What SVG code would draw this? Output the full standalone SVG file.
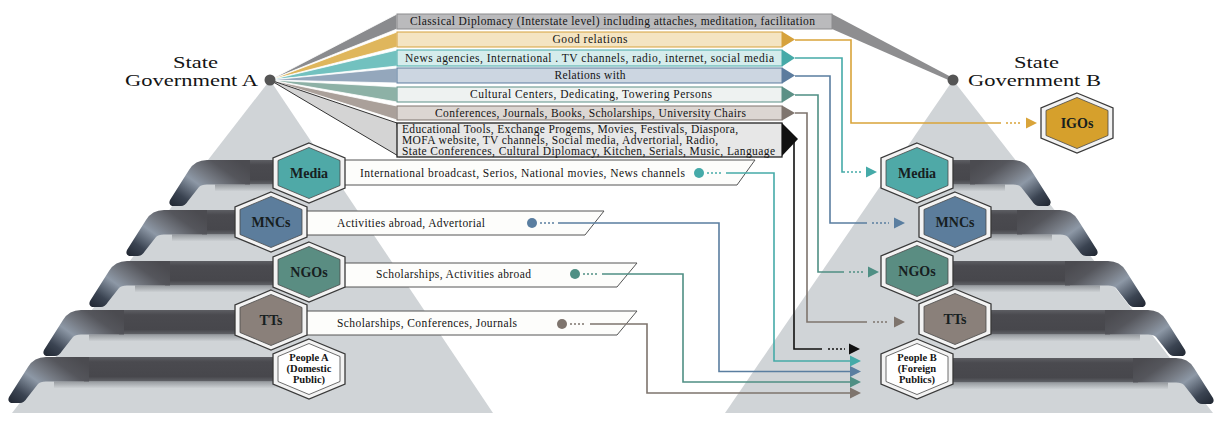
<svg xmlns="http://www.w3.org/2000/svg" width="1225" height="434" viewBox="0 0 1225 434">
<style>
text{font-family:"Liberation Serif","DejaVu Serif",serif;fill:#141414}
.gov{font-size:17px}
.ban{font-size:11.5px;text-anchor:middle}
.banl{font-size:11.5px}
.lbl{font-size:11.5px}
.hxt{font-size:14px;font-weight:bold;text-anchor:middle;fill:#17201f}
.hxs{font-size:10.5px;font-weight:bold;text-anchor:middle}
.pyr{fill:#d0d4d7}
.ring{fill:#f3f3f3;stroke:#3a3a3a;stroke-width:1.3}
.core{stroke:#4a4a4a;stroke-width:0.8}
.lab{fill:#fdfdfb;stroke:#555;stroke-width:1}
.band{fill:url(#bandG)}
.shad{fill:url(#shadG)}
.curl{fill:url(#curlG)}
.dash{stroke-dasharray:2 2}
.w{stroke:#fff;stroke-width:0.8}
</style>
<defs>
<linearGradient id="bandG" x1="0" y1="0" x2="0" y2="1">
<stop offset="0" stop-color="#5d5e63"/><stop offset="0.2" stop-color="#4a4a4f"/><stop offset="0.8" stop-color="#47474c"/><stop offset="1" stop-color="#626469"/>
</linearGradient>
<linearGradient id="shadG" x1="0" y1="0" x2="0" y2="1">
<stop offset="0" stop-color="#7d8186" stop-opacity="0.7"/><stop offset="1" stop-color="#7d8186" stop-opacity="0"/>
</linearGradient>
<linearGradient id="curlG" x1="0" y1="1" x2="1" y2="0.2">
<stop offset="0" stop-color="#1f2530"/><stop offset="0.2" stop-color="#3b4452"/><stop offset="0.45" stop-color="#8d98a6"/><stop offset="0.6" stop-color="#767b84"/><stop offset="0.8" stop-color="#55565c"/><stop offset="1" stop-color="#4b4b50"/>
</linearGradient>
<polygon id="hexO" points="0,-30 36,-15 36,15 0,30 -36,15 -36,-15"/>
<polygon id="hexI" points="0,-25.5 31,-12.5 31,12.5 0,25.5 -31,12.5 -31,-12.5"/>
<path id="curl" d="M45,0 L2,0 Q-10,0 -16,10 L-35,40 Q-37,44 -33,46 L-24,46 Q-20,46 -17,41 L-6,27 Q-4,24.5 2,24.5 L45,24.5Z"/>
<path id="ah" d="M-11,-5.5 L0,0 L-11,5.5Z"/>
</defs>

<g id="pyramids">
<polygon class="pyr" points="270,80 493,413 12,413"/>
<polygon class="pyr" points="953,80 1213,413 725,413"/>
</g>

<g id="steps">
<g><rect class="band" x="245" y="160" width="55" height="24.5"/><rect class="shad" x="215" y="184.5" width="85" height="7"/><use href="#curl" class="curl" transform="translate(205,160)"/></g>
<g><rect class="band" x="202" y="210" width="60" height="24.5"/><rect class="shad" x="172" y="234.5" width="90" height="7"/><use href="#curl" class="curl" transform="translate(162,210)"/></g>
<g><rect class="band" x="165" y="261" width="135" height="24.5"/><rect class="shad" x="135" y="285.5" width="165" height="7"/><use href="#curl" class="curl" transform="translate(125,261)"/></g>
<g><rect class="band" x="119" y="310" width="143" height="24.5"/><rect class="shad" x="89" y="334.5" width="173" height="7"/><use href="#curl" class="curl" transform="translate(79,310)"/></g>
<g><rect class="band" x="84" y="357" width="216" height="24.5"/><rect class="shad" x="54" y="381.5" width="246" height="7"/><use href="#curl" class="curl" transform="translate(44,357)"/></g>
<g><rect class="band" x="920" y="160" width="55" height="24.5"/><rect class="shad" x="920" y="184.5" width="85" height="7"/><use href="#curl" class="curl" transform="translate(1015,160) scale(-1,1)"/></g>
<g><rect class="band" x="955" y="210" width="67" height="24.5"/><rect class="shad" x="955" y="234.5" width="97" height="7"/><use href="#curl" class="curl" transform="translate(1062,210) scale(-1,1)"/></g>
<g><rect class="band" x="920" y="261" width="150" height="24.5"/><rect class="shad" x="920" y="285.5" width="180" height="7"/><use href="#curl" class="curl" transform="translate(1110,261) scale(-1,1)"/></g>
<g><rect class="band" x="955" y="310" width="155" height="24.5"/><rect class="shad" x="955" y="334.5" width="185" height="7"/><use href="#curl" class="curl" transform="translate(1150,310) scale(-1,1)"/></g>
<g><rect class="band" x="920" y="358" width="218" height="24.5"/><rect class="shad" x="920" y="382.5" width="248" height="7"/><use href="#curl" class="curl" transform="translate(1178,358) scale(-1,1)"/></g>
</g>

<g id="fan">
<polygon class="w" fill="#8a8b8e" points="270,80 397,14 397,29"/>
<polygon class="w" fill="#dfb65c" points="270,80 397,32 397,47"/>
<polygon class="w" fill="#72c1bf" points="270,80 397,50 397,66"/>
<polygon class="w" fill="#94a7bc" points="270,80 397,68 397,83"/>
<polygon class="w" fill="#8db1a6" points="270,80 397,87 397,102"/>
<polygon class="w" fill="#aaa09a" points="270,80 397,106 397,120"/>
<polygon fill="#d4d4d4" stroke="#333" stroke-width="1" points="270,80 397,123 400,157"/>
<polygon fill="#8e8e90" points="832,14 953,78 953,82 832,29"/>
</g>

<g id="banner-classical">
<rect x="397" y="14" width="435" height="15" fill="#bababc" stroke="#8c8c8e"/>
<text class="ban" x="612.5" y="25" textLength="405">Classical Diplomacy (Interstate level) including attaches, meditation, facilitation</text>
</g>
<g id="banner-good">
<rect x="397" y="32" width="385" height="15" fill="#f4e4c2" stroke="#d6a23c"/>
<polygon points="782,31.5 795,39.5 782,47.5" fill="#d6a23c"/>
<text class="ban" x="590" y="43" textLength="75">Good relations</text>
</g>
<g id="banner-news">
<rect x="397" y="50" width="385" height="16" fill="#d5ecec" stroke="#46aaa8"/>
<polygon points="782,49.5 795,58 782,66.5" fill="#46aaa8"/>
<text class="ban" x="589.5" y="61.5" textLength="369">News agencies, International . TV channels, radio, internet, social media</text>
</g>
<g id="banner-relations">
<rect x="397" y="68" width="385" height="15" fill="#ccd6e1" stroke="#5c7c9e"/>
<polygon points="782,67.5 795,75.5 782,83.5" fill="#5c7c9e"/>
<text class="ban" x="590" y="79" textLength="71">Relations with</text>
</g>
<g id="banner-cultural">
<rect x="397" y="87" width="385" height="15" fill="#eef2f1" stroke="#5c9086"/>
<polygon points="782,86.5 795,94.5 782,102.5" fill="#5c9086"/>
<text class="ban" x="591" y="98" textLength="242">Cultural Centers, Dedicating, Towering Persons</text>
</g>
<g id="banner-conferences">
<rect x="397" y="106" width="385" height="14" fill="#dcd6d2" stroke="#7f756e"/>
<polygon points="782,105.5 795,113 782,120.5" fill="#7f756e"/>
<text class="ban" x="590.5" y="116.5" textLength="311">Conferences, Journals, Books, Scholarships, University Chairs</text>
</g>
<g id="banner-educational">
<rect x="397" y="123" width="385" height="34" fill="#e7e7e7" stroke="#222" stroke-width="1.3"/>
<polygon points="782,123 798,139 782,156" fill="#111"/>
<text class="banl" x="402" y="132.5" textLength="336">Educational Tools, Exchange Progems, Movies, Festivals, Diaspora,</text>
<text class="banl" x="402" y="143.5" textLength="316">MOFA website, TV channels, Social media, Advertorial, Radio,</text>
<text class="banl" x="402" y="154.5" textLength="373">State Conferences, Cultural Diplomacy, Kitchen, Serials, Music, Language</text>
</g>

<g id="labels">
<g id="label-media"><polygon class="lab" points="330,160 755,160 737,185 330,185"/><text class="lbl" x="360" y="176.5" textLength="325">International broadcast, Serios, National movies, News channels</text></g>
<g id="label-mncs"><polygon class="lab" points="290,211 604,211 585,235 290,235"/><text class="lbl" x="337" y="226.5" textLength="148">Activities abroad, Advertorial</text></g>
<g id="label-ngos"><polygon class="lab" points="330,263 637,263 617,287 330,287"/><text class="lbl" x="376" y="278" textLength="155">Scholarships, Activities abroad</text></g>
<g id="label-tts"><polygon class="lab" points="290,311 637,311 617,335 290,335"/><text class="lbl" x="337" y="327" textLength="180">Scholarships, Conferences, Journals</text></g>
</g>

<g id="connectors" fill="none" stroke-width="1.6">
<path d="M795,40H851V123H1001" stroke="#d9a43a"/><path class="dash" d="M1006,123H1022" stroke="#d9a43a"/><use href="#ah" x="1037" y="123" fill="#d9a43a"/>
<path d="M795,58H842V172H845" stroke="#45aaa8"/><path class="dash" d="M847,172H862" stroke="#45aaa8"/><use href="#ah" x="877" y="172" fill="#45aaa8"/>
<path d="M795,76H830V223H867" stroke="#5a7ea0"/><path class="dash" d="M872,223H889" stroke="#5a7ea0"/><use href="#ah" x="905" y="223" fill="#5a7ea0"/>
<path d="M795,95H818V272H844" stroke="#4f8f84"/><path class="dash" d="M849,272H863" stroke="#4f8f84"/><use href="#ah" x="879" y="272" fill="#4f8f84"/>
<path d="M795,113H807V322H867" stroke="#7e746d"/><path class="dash" d="M873,322H889" stroke="#7e746d"/><use href="#ah" x="905" y="322" fill="#7e746d"/>
<path d="M794,140V349H822" stroke="#111"/><path class="dash" d="M828,349H845" stroke="#111"/><use href="#ah" x="860" y="349" fill="#111"/>
<circle cx="699" cy="173" r="5" fill="#45aaa8" stroke="none"/><path class="dash" d="M707,173H722" stroke="#45aaa8"/><path d="M726,173H774V361H850" stroke="#45aaa8"/><use href="#ah" x="861" y="361" fill="#45aaa8"/>
<circle cx="532" cy="223" r="5" fill="#5a7ea0" stroke="none"/><path class="dash" d="M540,223H555" stroke="#5a7ea0"/><path d="M558,223H719V371.5H850" stroke="#5a7ea0"/><use href="#ah" x="861" y="371.5" fill="#5a7ea0"/>
<circle cx="575" cy="274" r="5" fill="#4f8f84" stroke="none"/><path class="dash" d="M583,274H598" stroke="#4f8f84"/><path d="M602,274H683V382H850" stroke="#4f8f84"/><use href="#ah" x="861" y="382" fill="#4f8f84"/>
<circle cx="562" cy="324" r="5" fill="#7e746d" stroke="none"/><path class="dash" d="M570,324H585" stroke="#7e746d"/><path d="M590,324H647V393H850" stroke="#7e746d"/><use href="#ah" x="861" y="393" fill="#7e746d"/>
</g>

<g id="govA">
<circle cx="270" cy="80" r="5.5" fill="#555"/>
<text class="gov" x="173" y="68" textLength="45" lengthAdjust="spacingAndGlyphs" style="font-size:16px">State</text>
<text class="gov" x="125" y="86" textLength="133" lengthAdjust="spacingAndGlyphs">Government A</text>
</g>
<g id="govB">
<circle cx="953" cy="80" r="5.5" fill="#555"/>
<text class="gov" x="1014" y="68" textLength="45" lengthAdjust="spacingAndGlyphs" style="font-size:16px">State</text>
<text class="gov" x="968" y="86" textLength="133" lengthAdjust="spacingAndGlyphs">Government B</text>
</g>

<g id="hexA-media" transform="translate(309,173)"><use href="#hexO" class="ring"/><use href="#hexI" class="core" fill="#4fa9a7"/><text class="hxt" y="5">Media</text></g>
<g id="hexA-mncs" transform="translate(271,222)"><use href="#hexO" class="ring"/><use href="#hexI" class="core" fill="#5c7d9c"/><text class="hxt" y="5">MNCs</text></g>
<g id="hexA-ngos" transform="translate(309,272)"><use href="#hexO" class="ring"/><use href="#hexI" class="core" fill="#5a8d82"/><text class="hxt" y="5">NGOs</text></g>
<g id="hexA-tts" transform="translate(271,320)"><use href="#hexO" class="ring"/><use href="#hexI" class="core" fill="#8a807a"/><text class="hxt" y="5">TTs</text></g>
<g id="hexA-people" transform="translate(309,369)"><use href="#hexO" class="ring"/><use href="#hexI" class="core" fill="#ffffff"/><text class="hxs" y="-8">People A</text><text class="hxs" y="3">(Domestic</text><text class="hxs" y="14">Public)</text></g>

<g id="hexB-igos" transform="translate(1077,123)"><use href="#hexO" class="ring"/><use href="#hexI" class="core" fill="#d6a02c"/><text class="hxt" y="5">IGOs</text></g>
<g id="hexB-media" transform="translate(917,173)"><use href="#hexO" class="ring"/><use href="#hexI" class="core" fill="#4fa9a7"/><text class="hxt" y="5">Media</text></g>
<g id="hexB-mncs" transform="translate(955,222)"><use href="#hexO" class="ring"/><use href="#hexI" class="core" fill="#5c7d9c"/><text class="hxt" y="5">MNCs</text></g>
<g id="hexB-ngos" transform="translate(917,271)"><use href="#hexO" class="ring"/><use href="#hexI" class="core" fill="#5a8d82"/><text class="hxt" y="5">NGOs</text></g>
<g id="hexB-tts" transform="translate(955,319)"><use href="#hexO" class="ring"/><use href="#hexI" class="core" fill="#8a807a"/><text class="hxt" y="5">TTs</text></g>
<g id="hexB-people" transform="translate(917,369)"><use href="#hexO" class="ring"/><use href="#hexI" class="core" fill="#ffffff"/><text class="hxs" y="-8">People B</text><text class="hxs" y="3">(Foreign</text><text class="hxs" y="14">Publics)</text></g>
</svg>
